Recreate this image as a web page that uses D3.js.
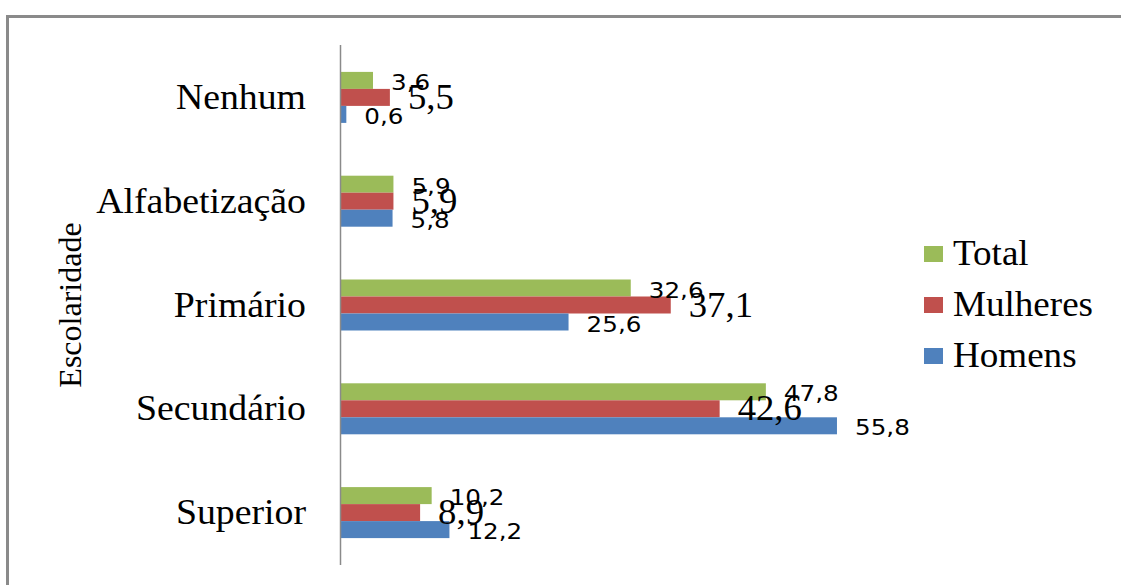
<!DOCTYPE html>
<html>
<head>
<meta charset="utf-8">
<script src="https://cdn.jsdelivr.net/npm/d3@7"></script>
<style>
  html, body { margin: 0; padding: 0; background: #fff; }
  svg { display: block; }
</style>
</head>
<body>
<script>
const categories = ["Nenhum", "Alfabetização", "Primário", "Secundário", "Superior"];
const seriesNames = ["Total", "Mulheres", "Homens"];
const totalValues = [3.6, 5.9, 32.6, 47.8, 10.2];
const mulheresValues = [5.5, 5.9, 37.1, 42.6, 8.9];
const homensValues = [0.6, 5.8, 25.6, 55.8, 12.2];
const axisTitle = "Escolaridade";

const seriesValues = { "Total": totalValues, "Mulheres": mulheresValues, "Homens": homensValues };
const colors = { "Total": "#9BBB59", "Mulheres": "#C0504D", "Homens": "#4F81BD" };

const W = 1121, H = 585;
const svg = d3.select("body").append("svg").attr("width", W).attr("height", H);

// outer chart border
svg.append("rect")
  .attr("x", 7.5).attr("y", 16.5).attr("width", 1300).attr("height", 700)
  .attr("fill", "#fff").attr("stroke", "#8a8a8a").attr("stroke-width", 3);

const x = d3.scaleLinear().domain([0, 60]).range([341, 874.3]);
const pad = 1 - 51 / 103.8;
const y = d3.scaleBand().domain(categories).range([45.5, 564.5])
  .paddingInner(pad).paddingOuter(pad / 2);
const ySub = d3.scaleBand().domain(seriesNames).range([0, y.bandwidth()]);

const locale = d3.formatLocale({ decimal: ",", thousands: ".", grouping: [3], currency: ["", ""] });
const fmt = locale.format(".1f");

const rows = categories.map((c, i) => ({
  category: c,
  values: seriesNames.map(s => ({ series: s, value: seriesValues[s][i], category: c }))
}));

const groups = svg.append("g").selectAll("g").data(rows).join("g")
  .attr("transform", d => `translate(0,${y(d.category)})`);

groups.selectAll("rect").data(d => d.values).join("rect")
  .attr("x", x(0))
  .attr("y", d => ySub(d.series))
  .attr("width", d => x(d.value) - x(0))
  .attr("height", ySub.bandwidth())
  .attr("fill", d => colors[d.series]);

// value labels
groups.selectAll("g.lbl").data(d => d.values).join("g")
  .attr("class", "lbl")
  .attr("transform", d => {
    const cy = ySub(d.series) + ySub.bandwidth() / 2;
    const serif = d.series === "Mulheres";
    const base = serif ? cy + 11.5 : cy + 9.5;
    return `translate(${x(d.value) + 18},${base}) scale(${serif ? 1.02 : 1.12},1)`;
  })
  .append("text")
  .attr("font-family", d => d.series === "Mulheres" ? "'Liberation Serif', 'Times New Roman', serif" : "'DejaVu Sans', Verdana, sans-serif")
  .attr("font-size", d => d.series === "Mulheres" ? 36 : 22)
  .attr("fill", "#000")
  .text(d => fmt(d.value));

// vertical axis line
svg.append("line")
  .attr("x1", x(0) - 0.5).attr("x2", x(0) - 0.5)
  .attr("y1", 45).attr("y2", 565)
  .attr("stroke", "#8a8a8a").attr("stroke-width", 1.5);

// category labels
const yAxis = d3.axisLeft(y).tickSize(0).tickPadding(0);
const yg = svg.append("g").attr("transform", `translate(306,0)`).call(yAxis);
yg.select(".domain").remove();
yg.selectAll(".tick text")
  .attr("x", null)
  .attr("dy", null)
  .attr("transform", "scale(1.08,1)")
  .attr("font-family", "'Liberation Serif', 'Times New Roman', serif")
  .attr("font-size", 35)
  .attr("fill", "#000")
  .attr("dominant-baseline", "central");

// axis title
svg.append("text")
  .attr("transform", "translate(81,305) rotate(-90)")
  .attr("text-anchor", "middle")
  .attr("font-family", "'Liberation Serif', 'Times New Roman', serif")
  .attr("font-size", 32)
  .attr("fill", "#000")
  .text(axisTitle);

// legend
const legend = svg.append("g").selectAll("g").data(seriesNames).join("g")
  .attr("transform", (d, i) => `translate(924,${254 + i * 51})`);
legend.append("rect")
  .attr("x", 0).attr("y", -8).attr("width", 19).attr("height", 16)
  .attr("fill", d => colors[d]);
legend.append("text")
  .attr("transform", "translate(29,11) scale(1.06,1)")
  .attr("font-family", "'Liberation Serif', 'Times New Roman', serif")
  .attr("font-size", 35)
  .attr("fill", "#000")
  .text(d => d);
</script>
</body>
</html>
